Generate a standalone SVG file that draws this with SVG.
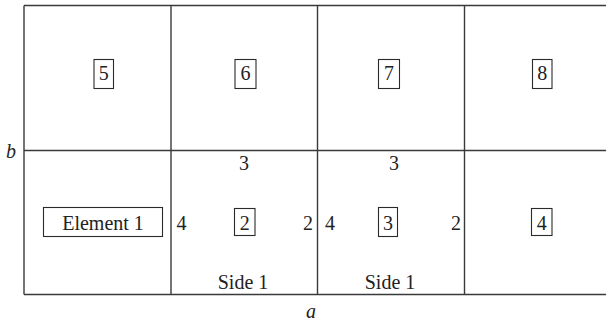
<svg xmlns="http://www.w3.org/2000/svg" width="606" height="325" viewBox="0 0 606 325">
<style>
.grid{stroke:#3a3a3a;stroke-width:1.4;fill:none}
.box{stroke:#2a2a2a;stroke-width:1.1;fill:#fff}
text{font-family:"Liberation Serif","Times New Roman",serif;font-size:20px;fill:#222;text-anchor:middle}
.it{font-style:italic}
</style>
<rect width="606" height="325" fill="#fff"/>
<g id="grid" class="grid">
<line x1="24" y1="5.5" x2="606" y2="5.5"/>
<line x1="24" y1="150.5" x2="606" y2="150.5"/>
<line x1="24" y1="294.5" x2="606" y2="294.5"/>
<line x1="24" y1="5.5" x2="24" y2="294.5"/>
<line x1="171" y1="5.5" x2="171" y2="294.5"/>
<line x1="317.5" y1="5.5" x2="317.5" y2="294.5"/>
<line x1="464.5" y1="5.5" x2="464.5" y2="294.5"/>
</g>
<g id="axis-b"><text class="it" x="11" y="158">b</text></g>
<g id="axis-a"><text class="it" x="311" y="318">a</text></g>
<g id="node5"><rect class="box" x="94" y="59.5" width="19.5" height="29"/><text x="103.8" y="80">5</text></g>
<g id="node6"><rect class="box" x="235" y="59.5" width="21" height="29"/><text x="245.5" y="80">6</text></g>
<g id="node7"><rect class="box" x="378.5" y="59.5" width="21" height="29"/><text x="389" y="80">7</text></g>
<g id="node8"><rect class="box" x="532.5" y="59.5" width="19.5" height="29"/><text x="542.3" y="80">8</text></g>
<g id="node1"><rect class="box" x="43.5" y="207.5" width="119" height="29"/><text x="103" y="229.5">Element 1</text></g>
<g id="node2"><rect class="box" x="234.5" y="208.5" width="20.5" height="27"/><text x="244.8" y="229.5">2</text>
<text x="244" y="169.5">3</text><text x="181.5" y="229.5">4</text><text x="308" y="229.5">2</text><text x="243" y="289">Side 1</text></g>
<g id="node3"><rect class="box" x="378.5" y="207.5" width="19" height="29"/><text x="388" y="229.5">3</text>
<text x="394" y="169.5">3</text><text x="330" y="229.5">4</text><text x="456" y="229.5">2</text><text x="390" y="289">Side 1</text></g>
<g id="node4"><rect class="box" x="531.5" y="208.5" width="20.5" height="27"/><text x="541.8" y="229.5">4</text></g>
</svg>
